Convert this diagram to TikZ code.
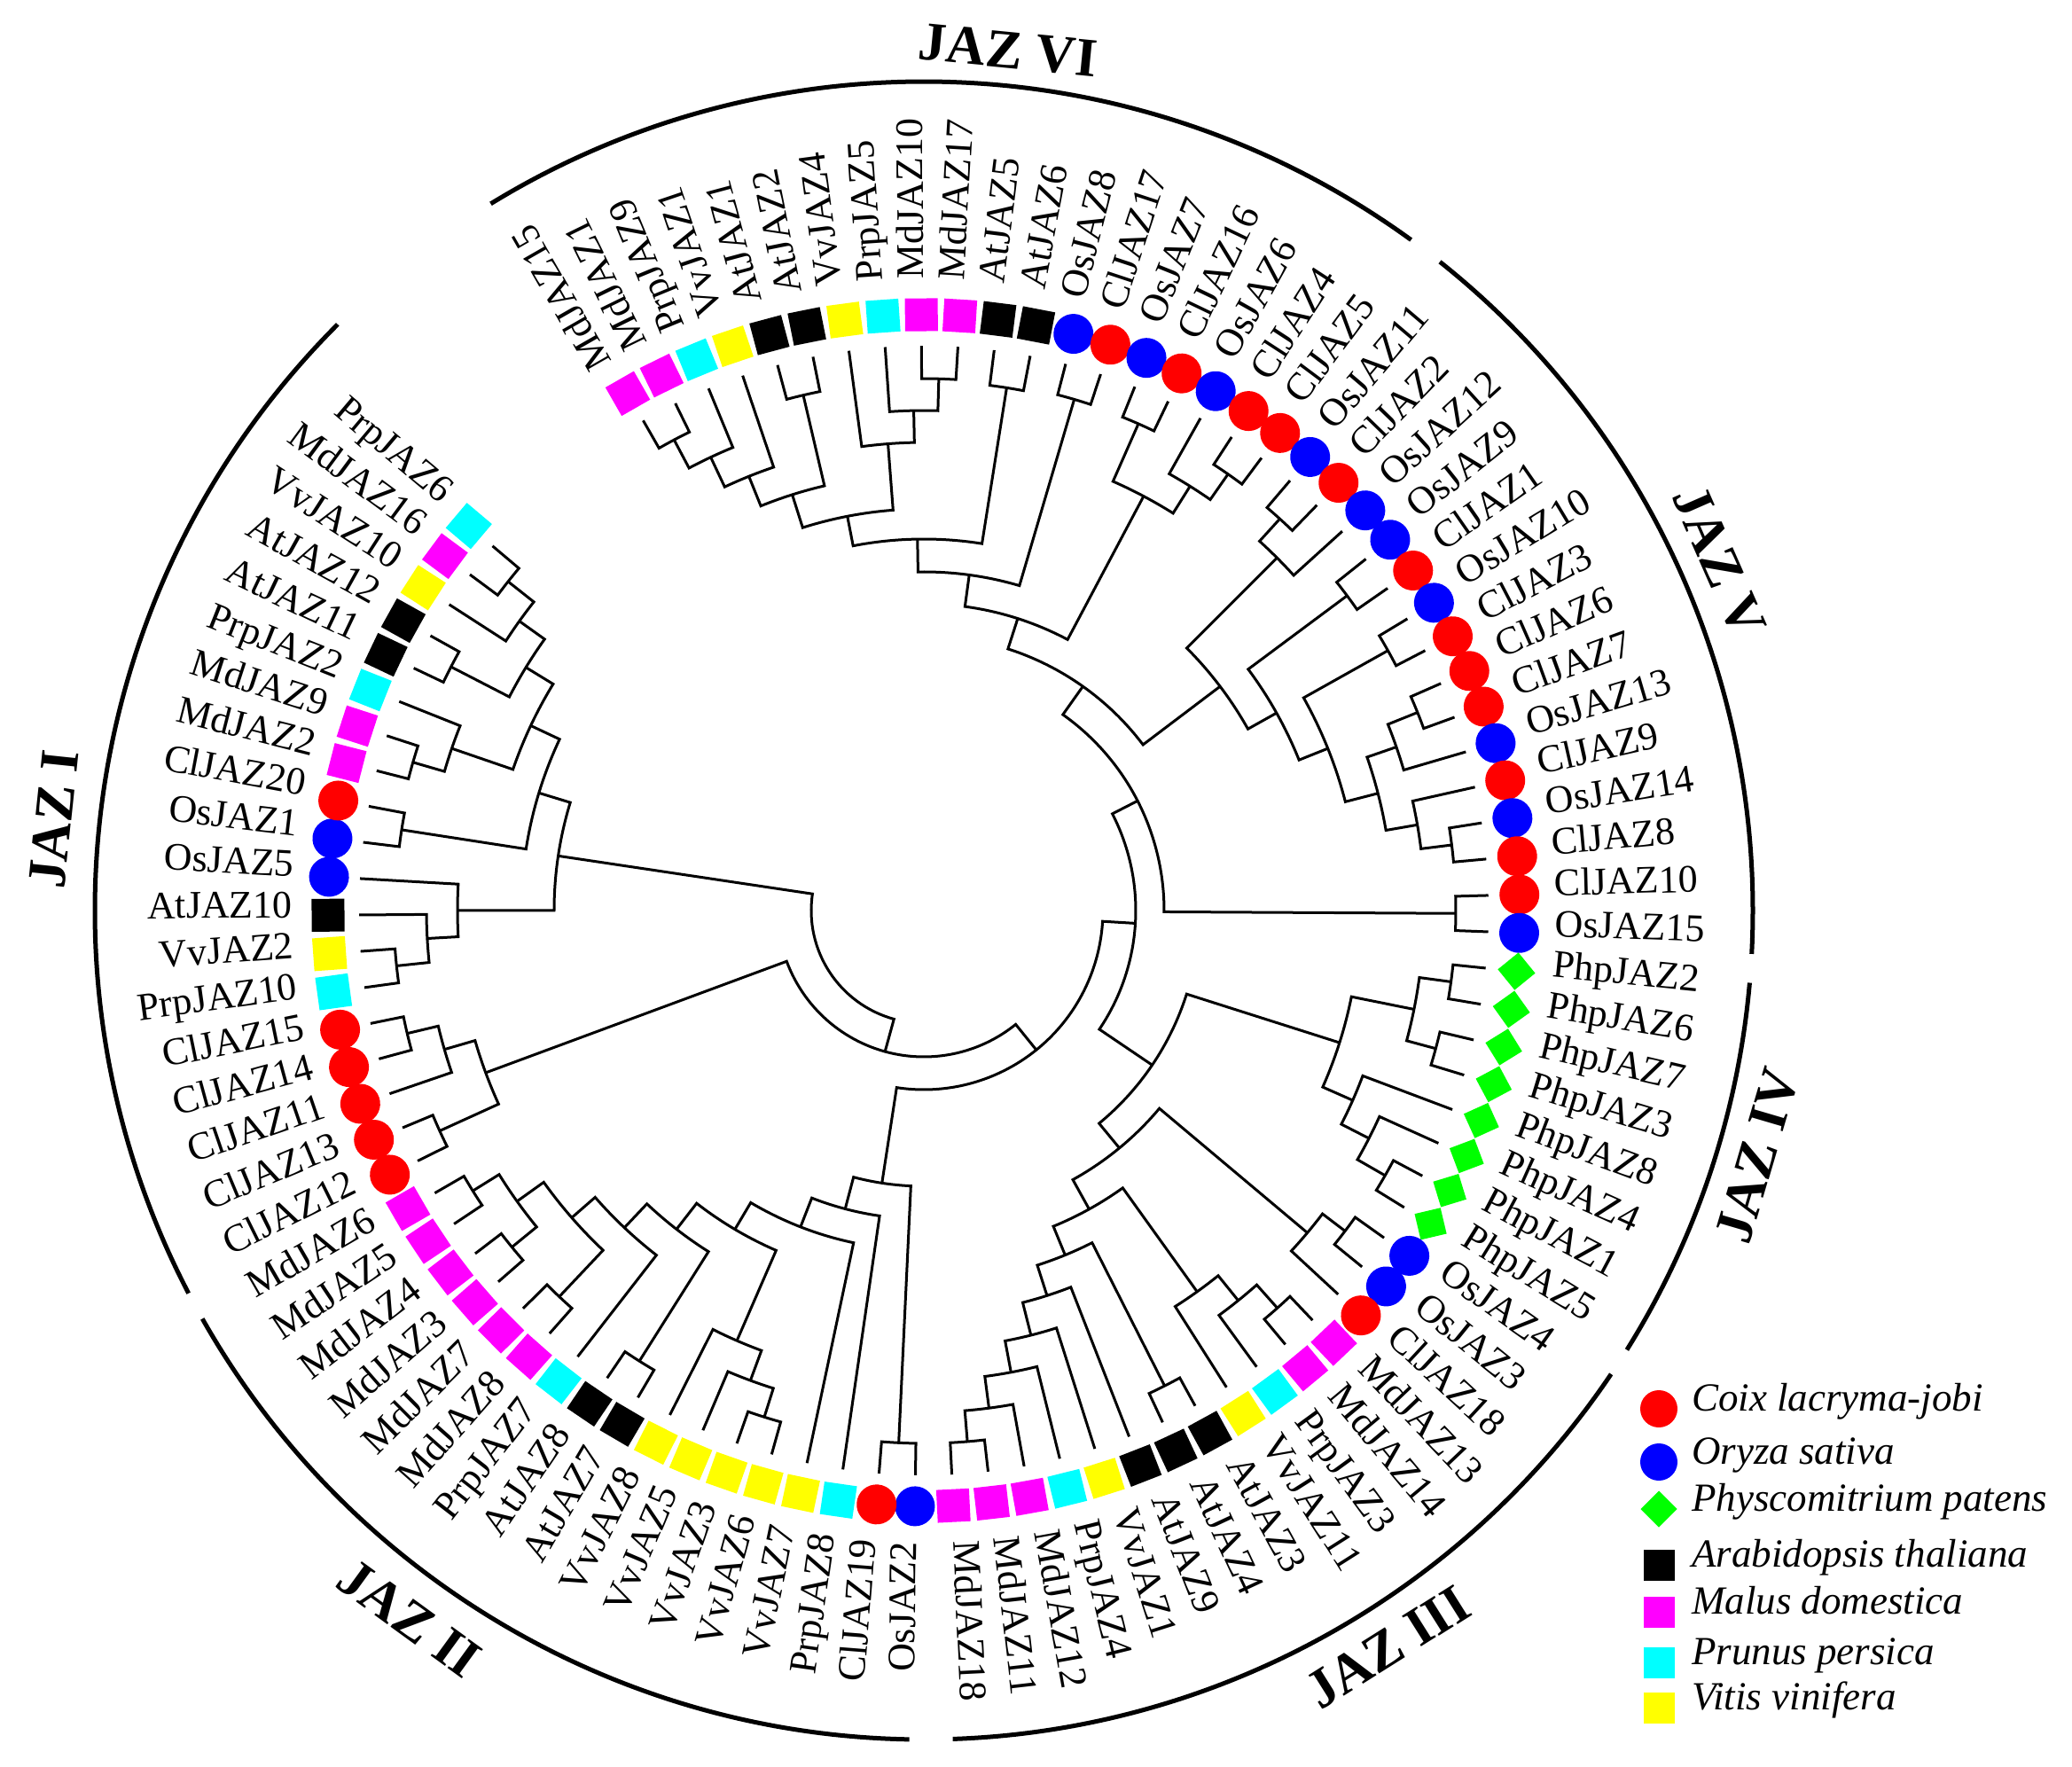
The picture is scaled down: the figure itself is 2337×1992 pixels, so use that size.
\documentclass[tikz,border=0pt]{standalone}
\usepackage{fontspec}
\setmainfont{Liberation Serif}
\definecolor{cC}{RGB}{255,0,0}
\definecolor{cO}{RGB}{0,0,255}
\definecolor{cP}{RGB}{0,255,0}
\definecolor{cA}{RGB}{0,0,0}
\definecolor{cM}{RGB}{255,0,255}
\definecolor{cR}{RGB}{0,255,255}
\definecolor{cV}{RGB}{255,255,0}
\newcommand\setleaf[1]{%
  \pgfmathsetmacro\tmpang{119.8-3.6957*#1}%
  \expandafter\xdef\csname ta@L#1\endcsname{\tmpang}%
  \coordinate (L#1) at (\tmpang:637pt);%
}
\newcommand\inode[4]{%
  \pgfmathsetmacro\tmpa{\csname ta@#3\endcsname}%
  \pgfmathsetmacro\tmpb{\csname ta@#4\endcsname}%
  \pgfmathsetmacro\tmpm{(\tmpa+\tmpb)/2}%
  \expandafter\xdef\csname ta@#1\endcsname{\tmpm}%
  \coordinate (#1) at (\tmpm:#2pt);%
  \draw[tree] (#3) -- (\tmpa:#2pt) arc[start angle=\tmpa, end angle=\tmpb, radius=#2pt] -- (#4);%
}
\tikzset{
  tree/.style={line width=3pt, line join=miter, line cap=butt},
  mkC/.style={circle, fill=cC, minimum size=45pt, inner sep=0pt},
  mkO/.style={circle, fill=cO, minimum size=45pt, inner sep=0pt},
  mkP/.style={rectangle, fill=cP, minimum size=30pt, inner sep=0pt, rotate=45},
  mkA/.style={rectangle, fill=cA, minimum size=37pt, inner sep=0pt},
  mkM/.style={rectangle, fill=cM, minimum size=37pt, inner sep=0pt},
  mkR/.style={rectangle, fill=cR, minimum size=37pt, inner sep=0pt},
  mkV/.style={rectangle, fill=cV, minimum size=37pt, inner sep=0pt},
  lab/.style={inner sep=0pt, font=\fontsize{44}{44}\selectfont},
  grp/.style={line width=5pt},
  grplab/.style={inner sep=0pt, font=\fontsize{62}{62}\selectfont\bfseries},
  leg/.style={inner sep=0pt, anchor=mid west, font=\fontsize{45}{45}\selectfont\itshape},
}
\begin{document}
\begin{tikzpicture}[x=1pt,y=1pt]
\useasboundingbox (-1042,-965) rectangle (1295,1027);
\foreach \i in {0,...,92} {\setleaf{\i}}
% ---- JAZ VI
\inode{n01}{601}{L0}{L1}
\inode{n2x}{565}{L2}{n01}
\inode{n3x}{528}{L3}{n2x}
\inode{n45}{597}{L4}{L5}
\inode{n487}{492}{n45}{n3x}
\inode{n89}{600}{L8}{L9}
\inode{n7x}{564}{L7}{n89}
\inode{n6x}{528}{L6}{n7x}
\inode{n452}{453}{n487}{n6x}
\inode{n1011}{597}{L10}{L11}
\inode{n420}{419}{n452}{n1011}
\inode{n1213}{601}{L12}{L13}
\inode{n380}{382}{n420}{n1213}
% ---- JAZ V
\inode{n1415}{600}{L14}{L15}
\inode{n1718}{600}{L17}{L18}
\inode{n16x}{565}{L16}{n1718}
\inode{n526}{529}{n1415}{n16x}
\inode{n346}{346}{n380}{n526}
\inode{n1920}{597}{L19}{L20}
\inode{n21x}{563}{n1920}{L21}
\inode{n2223}{595}{L22}{L23}
\inode{n2425}{600}{L24}{L25}
\inode{n2627}{600}{L26}{L27}
\inode{n28x}{564}{n2627}{L28}
\inode{n3031}{600}{L30}{L31}
\inode{n29x}{565}{L29}{n3031}
\inode{n525}{529}{n28x}{n29x}
\inode{n491}{491}{n2425}{n525}
\inode{n456}{456}{n2223}{n491}
\inode{n421}{419}{n21x}{n456}
\inode{n310}{310}{n346}{n421}
\inode{n3233}{600}{L32}{L33}
\inode{n271}{271}{n310}{n3233}
% ---- JAZ IV
\inode{n3435}{600}{L34}{L35}
\inode{n3637}{598}{L36}{L37}
\inode{n564c}{564}{n3435}{n3637}
\inode{n4041}{600}{L40}{L41}
\inode{n39x}{564}{L39}{n4041}
\inode{n38x}{529}{L38}{n39x}
\inode{nphp}{492}{n564c}{n38x}
% ---- JAZ III
\inode{n4243}{597}{L42}{L43}
\inode{n44x}{565}{n4243}{L44}
\inode{n4546}{600}{L45}{L46}
\inode{n47x}{565}{n4546}{L47}
\inode{n48x}{529}{n47x}{L48}
\inode{n4950}{601}{L49}{L50}
\inode{n5556}{601}{L55}{L56}
\inode{n54x}{566}{L54}{n5556}
\inode{n53x}{530}{L53}{n54x}
\inode{n52x}{494}{L52}{n53x}
\inode{n51x}{456}{L51}{n52x}
\inode{n417b}{420}{n4950}{n51x}
\inode{n383b}{385}{n48x}{n417b}
\inode{n345}{347}{n44x}{n383b}
\inode{n311}{311}{nphp}{n345}
\inode{n239}{239}{n271}{n311}
% ---- JAZ II
\inode{n5758}{601}{L57}{L58}
\inode{n6162}{599}{L61}{L62}
\inode{n63x}{565}{L63}{n6162}
\inode{n64x}{529}{L64}{n63x}
\inode{n6566}{601}{L65}{L66}
\inode{n6869}{599}{L68}{L69}
\inode{n7071}{600}{L70}{L71}
\inode{n7273}{599}{L72}{L73}
\inode{n564a}{564}{n7071}{n7273}
\inode{n527}{527}{n6869}{n564a}
\inode{n492}{492}{L67}{n527}
\inode{n456a}{455}{n6566}{n492}
\inode{n416}{418}{n64x}{n456a}
\inode{n383}{383}{L60}{n416}
\inode{n348}{348}{L59}{n383}
\inode{n309}{311}{n5758}{n348}
\inode{R3}{202}{n309}{n239}
% ---- Coix clade
\inode{n7778}{599}{L77}{L78}
\inode{n76x}{563}{L76}{n7778}
\inode{n7475}{600}{L74}{L75}
\inode{nI}{527}{n7475}{n76x}
\inode{R2}{165}{nI}{R3}
% ---- JAZ I
\inode{n9192}{598}{L91}{L92}
\inode{n90x}{561}{L90}{n9192}
\inode{n8889}{600}{L88}{L89}
\inode{nB}{526}{n90x}{n8889}
\inode{n8586}{600}{L85}{L86}
\inode{nA1}{563}{L87}{n8586}
\inode{nC}{490}{nB}{nA1}
\inode{n8384}{596}{L83}{L84}
\inode{nD}{454}{nC}{n8384}
\inode{n7980}{598}{L79}{L80}
\inode{nG}{561}{L81}{n7980}
\inode{nF}{526}{L82}{nG}
\inode{nE}{417}{nD}{nF}
\inode{R1}{127}{nE}{R2}
% ---- markers and labels
\foreach \i/\nm/\sp in {0/MdJAZ15/M,1/MdJAZ1/M,2/PrpJAZ9/R,3/VvJAZ1/V,4/AtJAZ1/A,5/AtJAZ2/A,6/VvJAZ4/V,7/PrpJAZ5/R,8/MdJAZ10/M,9/MdJAZ17/M,10/AtJAZ5/A,11/AtJAZ6/A,12/OsJAZ8/O,13/ClJAZ17/C,14/OsJAZ7/O,15/ClJAZ16/C,16/OsJAZ6/O,17/ClJAZ4/C,18/ClJAZ5/C,19/OsJAZ11/O,20/ClJAZ2/C,21/OsJAZ12/O,22/OsJAZ9/O,23/ClJAZ1/C,24/OsJAZ10/O,25/ClJAZ3/C,26/ClJAZ6/C,27/ClJAZ7/C,28/OsJAZ13/O,29/ClJAZ9/C,30/OsJAZ14/O,31/ClJAZ8/C,32/ClJAZ10/C,33/OsJAZ15/O,34/PhpJAZ2/P,35/PhpJAZ6/P,36/PhpJAZ7/P,37/PhpJAZ3/P,38/PhpJAZ8/P,39/PhpJAZ4/P,40/PhpJAZ1/P,41/PhpJAZ5/P,42/OsJAZ4/O,43/OsJAZ3/O,44/ClJAZ18/C,45/MdJAZ13/M,46/MdJAZ14/M,47/PrpJAZ3/R,48/VvJAZ11/V,49/AtJAZ3/A,50/AtJAZ4/A,51/AtJAZ9/A,52/VvJAZ1/V,53/PrpJAZ4/R,54/MdJAZ12/M,55/MdJAZ11/M,56/MdJAZ18/M,57/OsJAZ2/O,58/ClJAZ19/C,59/PrpJAZ8/R,60/VvJAZ7/V,61/VvJAZ6/V,62/VvJAZ3/V,63/VvJAZ5/V,64/VvJAZ8/V,65/AtJAZ7/A,66/AtJAZ8/A,67/PrpJAZ7/R,68/MdJAZ8/M,69/MdJAZ7/M,70/MdJAZ3/M,71/MdJAZ4/M,72/MdJAZ5/M,73/MdJAZ6/M,74/ClJAZ12/C,75/ClJAZ13/C,76/ClJAZ11/C,77/ClJAZ14/C,78/ClJAZ15/C,79/PrpJAZ10/R,80/VvJAZ2/V,81/AtJAZ10/A,82/OsJAZ5/O,83/OsJAZ1/O,84/ClJAZ20/C,85/MdJAZ2/M,86/MdJAZ9/M,87/PrpJAZ2/R,88/AtJAZ11/A,89/AtJAZ12/A,90/VvJAZ10/V,91/MdJAZ16/M,92/PrpJAZ6/R} {
  \pgfmathsetmacro\ang{119.8-3.6957*\i}
  \node[mk\sp, rotate=\ang] (m\i) at (\ang:672pt) {};
  \pgfmathtruncatemacro\rside{\ang>-90}
  \ifnum\rside=1
    \node[lab, anchor=mid west, rotate=\ang] (t\i) at (\ang:712pt) {\nm};
  \else
    \node[lab, anchor=mid east, rotate=\ang+180] (t\i) at (\ang:712pt) {\nm};
  \fi
}
% ---- group arcs
\draw[grp] (121.5:935pt) arc[start angle=121.5, end angle=54, radius=935pt];
\draw[grp] (51.5:935pt) arc[start angle=51.5, end angle=-3, radius=935pt];
\draw[grp] (-5:935pt) arc[start angle=-5, end angle=-32, radius=935pt];
\draw[grp] (-34:935pt) arc[start angle=-34, end angle=-88, radius=935pt];
\draw[grp] (-91:935pt) arc[start angle=-91, end angle=-150.5, radius=935pt];
\draw[grp] (-152.5:935pt) arc[start angle=-152.5, end angle=-225, radius=935pt];
\node[grplab, rotate=-5.6] (gVI) at (84.4:975pt) {JAZ VI};
\node[grplab, rotate=-66.3] (gV) at (23.7:980pt) {JAZ V};
\node[grplab, rotate=73.6] (gIV) at (-16.4:980pt) {JAZ IV};
\node[grplab, rotate=32.2] (gIII) at (-57.8:982pt) {JAZ III};
\node[grplab, rotate=-36] (gII) at (234:987pt) {JAZ II};
\node[grplab, rotate=84] (gI) at (174:987pt) {JAZ I};
% ---- legend
\node[mkC, minimum size=42pt] (l1) at (829,-562) {};
\node[mkO, minimum size=42pt] (l2) at (829,-622) {};
\node[mkP, minimum size=29pt] (l3) at (829,-675) {};
\node[mkA, minimum size=35pt] (l4) at (829,-738) {};
\node[mkM, minimum size=35pt] (l5) at (829,-791) {};
\node[mkR, minimum size=35pt] (l6) at (829,-848) {};
\node[mkV, minimum size=35pt] (l7) at (829,-899) {};
\node[leg] (k1) at (866,-562) {Coix lacryma-jobi};
\node[leg] (k2) at (866,-622) {Oryza sativa};
\node[leg] (k3) at (866,-675) {Physcomitrium patens};
\node[leg] (k4) at (866,-738) {Arabidopsis thaliana};
\node[leg] (k5) at (866,-791) {Malus domestica};
\node[leg] (k6) at (866,-848) {Prunus persica};
\node[leg] (k7) at (866,-899) {Vitis vinifera};
\end{tikzpicture}
\end{document}
